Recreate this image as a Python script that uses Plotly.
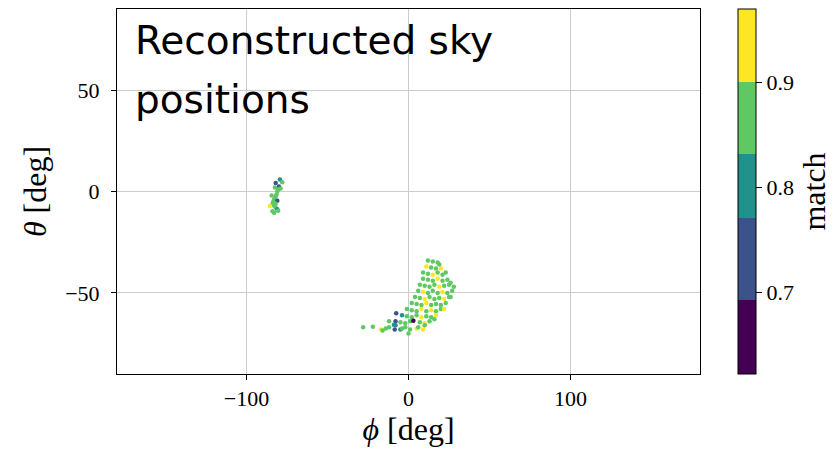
import plotly.graph_objects as go

# Cluster A (small, near phi=-80)
phi_a = [-79.4, -78.0, -82.0, -80.0, -80.5, -81.0, -81.5, -82.0, -82.5, -83.0, -81.0, -83.5, -82.0,
         -84.0, -83.0, -82.0, -85.6, -84.0, -81.0, -83.0, -80.5, -79.0, -82.5, -84.5]
theta_a = [5.9, 4.6, 4.2, 2.5, 1.0, 0.0, -1.5, -2.5, -3.5, -4.0, -4.5, -5.0, -6.0,
           -6.0, -7.0, -8.0, -7.2, -9.7, -8.8, -10.5, -9.5, 1.5, 2.0, -2.0]
match_a = [0.80, 0.86, 0.72, 0.74, 0.86, 0.87, 0.86, 0.85, 0.86, 0.86, 0.73, 0.86, 0.87,
           0.85, 0.86, 0.85, 0.93, 0.86, 0.80, 0.86, 0.86, 0.87, 0.86, 0.85]

# Cluster B (crescent, near phi=15, theta=-55)
phi_b = [12, 15, 18,
         11, 14, 17, 20,
         9, 12, 15, 18, 21,
         9, 12, 15, 18, 21, 24,
         7, 10, 13, 16, 19, 22, 25,
         6, 9, 12, 15, 18, 21, 24, 27,
         4, 7, 10, 13, 16, 19, 22, 25,
         2, 5, 8, 11, 14, 17, 20, 23,
         -1, 2, 5, 8, 11, 14, 17, 20,
         -4, -1, 2, 5, 8, 11, 14, 17,
         -8, -5, -2, 1, 3, 7, 10, 13,
         -12, -8, -5, -2, 1, 5, 9,
         -28, -22, -17, -16, -14, -9, -8.5, -4, -7.6, -12, 0, 19, 23, 26,
         28, 26, 22, 10, 6, 16]
theta_b = [-34, -34.5, -35,
           -37, -37.5, -38, -38,
           -40, -40.5, -41, -40, -41,
           -43, -43.5, -44, -43, -44, -43.5,
           -46, -46.5, -47, -46, -47, -46.5, -46,
           -49, -49.5, -50, -49, -50, -49.5, -50, -49,
           -52, -52.5, -53, -52, -53, -52.5, -53, -52,
           -55, -55.5, -56, -55, -56, -55.5, -56, -55,
           -58, -58.5, -59, -58, -59, -58.5, -59, -58,
           -61, -61.5, -62, -61, -62, -61.5, -62, -61,
           -64, -64.5, -65, -64, -63.7, -64.5, -65, -64,
           -67, -66, -68, -67, -68, -67.5, -68,
           -67, -66.7, -68, -68.6, -67.5, -65.7, -68, -67.6, -60, -64, -70, -36, -40, -45,
           -47, -52, -58, -66, -67, -63]
match_b = [0.87, 0.86, 0.85,
           0.92, 0.88, 0.86, 0.94,
           0.86, 0.85, 0.93, 0.87, 0.86,
           0.84, 0.87, 0.86, 0.92, 0.88, 0.86,
           0.85, 0.87, 0.86, 0.85, 0.93, 0.86, 0.87,
           0.86, 0.92, 0.85, 0.87, 0.86, 0.94, 0.85, 0.86,
           0.85, 0.86, 0.93, 0.87, 0.86, 0.85, 0.92, 0.86,
           0.86, 0.84, 0.87, 0.93, 0.86, 0.85, 0.88, 0.86,
           0.85, 0.87, 0.86, 0.92, 0.86, 0.94, 0.85, 0.86,
           0.83, 0.86, 0.85, 0.87, 0.93, 0.86, 0.85, 0.92,
           0.76, 0.85, 0.86, 0.87, 0.66, 0.86, 0.93, 0.85,
           0.86, 0.80, 0.78, 0.86, 0.85, 0.92, 0.94,
           0.86, 0.85, 0.94, 0.86, 0.86, 0.80, 0.76, 0.85, 0.73, 0.86, 0.86, 0.87, 0.86, 0.85,
           0.86, 0.85, 0.93, 0.86, 0.86, 0.85]

phi = phi_a + phi_b
theta = theta_a + theta_b
match = match_a + match_b

cmin, cmax = 0.622, 0.970
bounds = [0.622, 0.693, 0.771, 0.832, 0.900, 0.970]
colors = ["#440154", "#3b528b", "#21918c", "#5ec962", "#fde725"]

def nrm(v):
    return (v - cmin) / (cmax - cmin)

colorscale = []
for i, c in enumerate(colors):
    colorscale.append([nrm(bounds[i]), c])
    colorscale.append([nrm(bounds[i + 1]), c])
colorscale[0][0] = 0.0
colorscale[-1][0] = 1.0

serif = "Liberation Serif"
L, R, T, B = 117, 137, 9, 77
PW, PH = 837 - L - R, 451 - T - B

fig = go.Figure()
fig.add_trace(go.Scatter(
    x=phi, y=theta, mode="markers",
    marker=dict(
        size=4.5, color=match, colorscale=colorscale, cmin=cmin, cmax=cmax,
        line=dict(width=0),
        colorbar=dict(
            x=(738 - L) / PW, xanchor="left", y=0.5, yanchor="middle", len=1.0, lenmode="fraction",
            ypad=0, xpad=0,
            thickness=18, outlinecolor="black", outlinewidth=1,
            tickvals=[0.7, 0.8, 0.9], ticktext=["0.7", "0.8", "0.9"],
            ticks="outside", ticklen=6, tickcolor="black",
            tickfont=dict(family=serif, size=22, color="black"),
            title=dict(text="match", side="right", font=dict(family=serif, size=32, color="black")),
        ),
    ),
    showlegend=False,
))

fig.update_layout(
    width=837, height=451,
    margin=dict(l=L, r=R, t=T, b=B, autoexpand=False),
    plot_bgcolor="white", paper_bgcolor="white",
    xaxis=dict(
        range=[-180, 180], tickvals=[-100, 0, 100], ticktext=["\u2212100", "0", "100"],
        showgrid=True, gridcolor="#cccccc", gridwidth=1, zeroline=False,
        showline=True, linecolor="black", linewidth=1, mirror=True,
        ticks="outside", ticklen=5, tickcolor="black",
        tickfont=dict(family=serif, size=22, color="black"),
        title=dict(text="<i>\u03d5</i> [deg]", font=dict(family=serif, size=32, color="black"), standoff=3),
    ),
    yaxis=dict(
        range=[-90, 90], tickvals=[-50, 0, 50], ticktext=["\u221250", "0", "50"],
        showgrid=True, gridcolor="#cccccc", gridwidth=1, zeroline=False,
        showline=True, linecolor="black", linewidth=1, mirror=True,
        ticks="outside", ticklen=5, tickcolor="black", ticklabelstandoff=7,
        tickfont=dict(family=serif, size=22, color="black"),
        title=dict(text="<i>\u03b8</i> [deg]", font=dict(family=serif, size=32, color="black"), standoff=8),
    ),
    annotations=[
        dict(text="Reconstructed sky", xref="paper", yref="paper", x=(133 - L) / PW, y=1 - (41 - T) / PH,
             xanchor="left", yanchor="middle", showarrow=False,
             font=dict(family="DejaVu Sans", size=39, color="black")),
        dict(text="positions", xref="paper", yref="paper", x=(133 - L) / PW, y=1 - (99 - T) / PH,
             xanchor="left", yanchor="middle", showarrow=False,
             font=dict(family="DejaVu Sans", size=39, color="black")),
    ],
)

fig.write_html("out.html")
